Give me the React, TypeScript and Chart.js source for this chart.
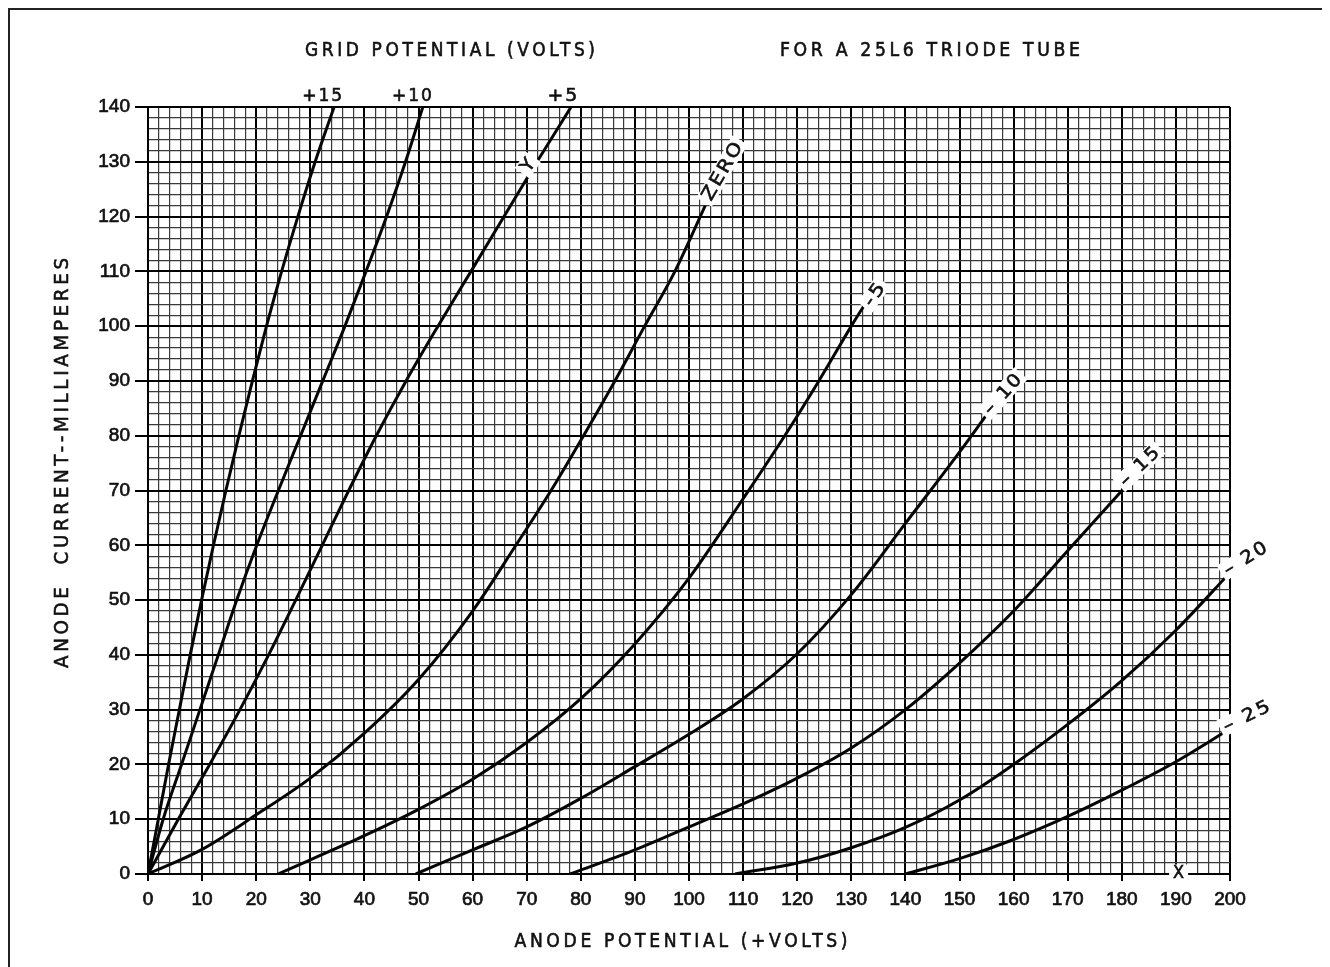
import { useEffect, useRef } from 'react';
import { Chart, registerables } from 'chart.js';

Chart.register(...registerables);

// Anode current steps (mA) used by the three positive-grid curves
const currentSteps = [0, 10, 20, 30, 40, 50, 60, 70, 80, 90, 100, 110, 120, 130, 140];

// Anode potential (V) for each grid potential curve
const plus15Volts = [0, 1.9, 3.8, 5.8, 7.8, 9.9, 12.1, 14.4, 16.8, 19.3, 21.9, 24.7, 27.7, 30.9, 34.4];
const plus10Volts = [0, 2.8, 6.2, 9.6, 13, 16.4, 20.1, 24.1, 28.2, 32.3, 36.4, 40.3, 44.1, 47.6, 50.8];
const plus5Volts = [0, 5.6, 11.4, 17, 22.3, 27.3, 32.2, 37.1, 42.2, 47.7, 53.6, 59.7, 65.8, 71.9, 78.2];

const zeroVolts = [0, 10, 20, 30, 40, 50, 60, 68, 74.5, 80.5, 86.3, 91.8, 97.4, 103];
const zeroCurrent = [0, 4.5, 10.8, 17.5, 25.7, 35.5, 48, 60, 70, 80, 90, 100, 110, 122];

const minus5Volts = [24, 30, 40, 50, 60, 70, 80, 90, 100, 110, 117.7, 124, 130, 132.2];
const minus5Current = [0, 2.6, 7, 11.8, 17.3, 24, 32, 42, 54, 68.5, 80, 90, 100, 103.5];

const minus10Volts = [49.5, 60, 70, 80, 90, 100, 110, 120, 130, 140, 150, 155.5];
const minus10Current = [0, 4.4, 8.6, 13.8, 19.6, 25.5, 32, 40.2, 51, 64, 77, 84.5];

const minus15Volts = [78, 90, 100, 110, 120, 130, 140, 150, 160, 170, 180.5];
const minus15Current = [0, 4.4, 8.6, 12.8, 17.5, 23, 30, 38.5, 48, 59, 70.5];

const minus20Volts = [108.5, 120, 130, 140, 150, 160, 170, 180, 190, 200];
const minus20Current = [0, 2, 4.8, 8.5, 13.5, 20, 27.3, 35.3, 44.5, 55];

const minus25Volts = [140, 150, 160, 170, 180, 190, 200];
const minus25Current = [0, 2.8, 6.3, 10.5, 15.3, 20.5, 26.5];

const curveNames = ['+15', '+10', '+5', 'ZERO', '–5', '–10', '–15', '–20', '–25'];

// Axis settings
const xMin = 0;
const xMax = 200;
const yMin = 0;
const yMax = 140;

// Text annotations (anchored in data coordinates)
const headLabels = [
  { text: '+15', v: 32.2 },
  { text: '+10', v: 48.8 },
  { text: '+5', v: 76.6 },
];
const curveTags = [
  { text: 'ZERO', v: 106.1, i: 128.3, angle: -60, len: 64 },
  { text: '-5', v: 134.2, i: 105.8, angle: -55, len: 24 },
  { text: '– 10', v: 157.9, i: 87.6, angle: -48, len: 48 },
  { text: '– 15', v: 183.2, i: 74.4, angle: -44, len: 48 },
  { text: '– 20', v: 202.8, i: 57.6, angle: -32, len: 48 },
  { text: '– 25', v: 203, i: 28.8, angle: -26, len: 50 },
  { text: 'Y', v: 70.2, i: 129.4, angle: -55, len: 12 },
];

const FONT = '"DejaVu Sans", "Liberation Sans", sans-serif';
const TICK_FONT = '"Liberation Sans", "DejaVu Sans", sans-serif';

function pairs(xs: number[], ys: number[]) {
  return xs.map((x, k) => ({ x, y: ys[k] }));
}

function fitText(
  c: CanvasRenderingContext2D,
  text: string,
  cx: number,
  cy: number,
  width: number,
  size: number,
  spacing: number,
  rot = 0,
  backdrop = false,
) {
  c.save();
  c.translate(cx, cy);
  c.rotate(rot);
  c.font = `${size}px ${FONT}`;
  (c as any).letterSpacing = `${spacing}px`;
  c.textAlign = 'left';
  c.textBaseline = 'middle';
  const w = c.measureText(text).width - spacing;
  const k = width / w;
  if (backdrop) {
    c.fillStyle = '#fff';
    c.fillRect(-width / 2 - 4, -size * 0.5, width + 8, size);
  }
  c.scale(k, 1);
  c.fillStyle = '#111';
  c.strokeStyle = '#111';
  c.lineWidth = 0.6;
  c.fillText(text, -w / 2, 1);
  c.strokeText(text, -w / 2, 1);
  c.restore();
}

export default function App() {
  const ref = useRef<HTMLCanvasElement>(null);

  useEffect(() => {
    document.body.style.margin = '0';
    const canvas = ref.current;
    if (!canvas) return;

    const series = [
      pairs(plus15Volts, currentSteps),
      pairs(plus10Volts, currentSteps),
      pairs(plus5Volts, currentSteps),
      pairs(zeroVolts, zeroCurrent),
      pairs(minus5Volts, minus5Current),
      pairs(minus10Volts, minus10Current),
      pairs(minus15Volts, minus15Current),
      pairs(minus20Volts, minus20Current),
      pairs(minus25Volts, minus25Current),
    ];

    const decor = {
      id: 'decor',
      beforeDraw(chart: any) {
        const c = chart.ctx;
        c.save();
        c.fillStyle = '#fff';
        c.fillRect(0, 0, chart.width, chart.height);
        c.strokeStyle = '#222';
        c.lineWidth = 2;
        c.beginPath();
        c.moveTo(9, chart.height);
        c.lineTo(9, 9);
        c.lineTo(1322, 9);
        c.stroke();
        c.restore();
      },
      afterDraw(chart: any) {
        const c = chart.ctx;
        const xs = chart.scales.x;
        const ys = chart.scales.y;

        fitText(c, 'GRID POTENTIAL (VOLTS)', 450, 50, 290, 19, 4);
        fitText(c, 'FOR A 25L6 TRIODE TUBE', 930, 50, 300, 19, 4);
        fitText(c, 'ANODE POTENTIAL (+VOLTS)', 681, 941, 333, 19, 4);
        fitText(c, 'ANODE  CURRENT--MILLIAMPERES', 62, 463, 410, 20, 4, -Math.PI / 2);

        headLabels.forEach((h) => {
          const w = h.text.length === 3 ? 40 : 30;
          fitText(c, h.text, xs.getPixelForValue(h.v), ys.top - 12, w, 18, 2);
        });

        curveTags.forEach((t) => {
          fitText(
            c,
            t.text,
            xs.getPixelForValue(t.v),
            ys.getPixelForValue(t.i),
            t.len,
            18,
            2,
            (t.angle * Math.PI) / 180,
            true,
          );
        });

        // X marker on the anode potential axis
        fitText(c, 'X', xs.getPixelForValue(190.5), ys.getPixelForValue(0) - 1, 11, 17, 0, 0, true);
      },
    };

    const isMajor = (ctx: any) => ctx.tick && Math.round(ctx.tick.value) % 10 === 0;
    const gridColor = (ctx: any) => (isMajor(ctx) ? '#000' : '#3a3a3a');
    const gridWidth = (ctx: any) => (isMajor(ctx) ? 2 : 1.2);
    const tickColor = (ctx: any) => (isMajor(ctx) ? '#000' : 'rgba(0,0,0,0)');
    const label = (v: any) => (Math.round(Number(v)) % 10 === 0 ? String(v) : '');

    const tickFont = { family: TICK_FONT, size: 19 };

    const chart = new Chart(canvas, {
      type: 'scatter',
      data: {
        datasets: series.map((d, k) => ({
          label: curveNames[k],
          data: d,
          showLine: true,
          borderColor: '#050505',
          borderWidth: 3,
          pointRadius: 0,
          cubicInterpolationMode: 'monotone' as const,
        })),
      },
      options: {
        responsive: false,
        animation: false,
        devicePixelRatio: 1,
        layout: { padding: { left: 40, right: 100, top: 107, bottom: 33 } },
        plugins: { legend: { display: false }, tooltip: { enabled: false } },
        scales: {
          x: {
            type: 'linear',
            min: xMin,
            max: xMax,
            afterFit: (s: any) => {
              s.height = 60;
            },
            ticks: {
              stepSize: 2,
              autoSkip: false,
              maxRotation: 0,
              callback: label,
              color: '#111',
              font: tickFont,
              textStrokeColor: '#111',
              textStrokeWidth: 0.7,
              padding: 7,
            },
            grid: {
              color: gridColor,
              lineWidth: gridWidth,
              tickColor: tickColor,
              tickLength: 7,
              tickWidth: 2,
            },
            border: { display: true, color: '#000', width: 2 },
          },
          y: {
            type: 'linear',
            min: yMin,
            max: yMax,
            afterFit: (s: any) => {
              s.width = 108;
            },
            ticks: {
              stepSize: 2,
              autoSkip: false,
              callback: label,
              color: '#111',
              font: tickFont,
              textStrokeColor: '#111',
              textStrokeWidth: 0.7,
              padding: 5,
            },
            grid: {
              color: gridColor,
              lineWidth: gridWidth,
              tickColor: tickColor,
              tickLength: 13,
              tickWidth: 2,
            },
            border: { display: true, color: '#000', width: 2 },
          },
        },
      },
      plugins: [decor],
    } as any);

    return () => chart.destroy();
  }, []);

  return (
    <div style={{ width: 1330, height: 967, background: '#fff' }}>
      <canvas ref={ref} width={1330} height={967} style={{ display: 'block' }} />
    </div>
  );
}
